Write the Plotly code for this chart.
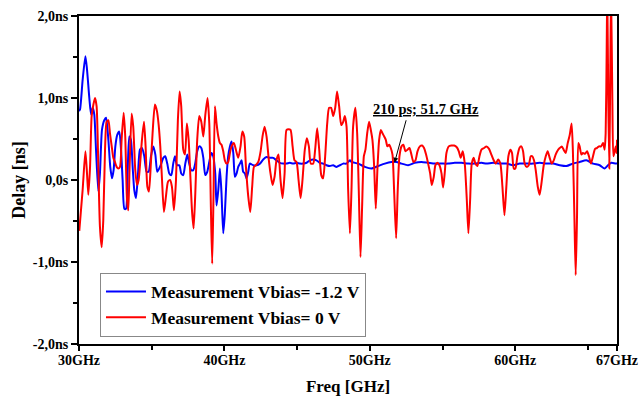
import plotly.graph_objects as go

# ---------------- data ----------------
blue_f = [30.00, 30.07, 30.25, 30.44, 30.55, 30.71, 30.83, 30.94, 31.05, 31.17, 31.33, 31.44, 31.58, 31.74, 31.86,
          32.02, 32.15, 32.27, 32.38, 32.50, 32.63, 32.77, 32.89, 33.00, 33.12, 33.23, 33.35, 33.46, 33.57, 33.69,
          33.80, 33.92, 34.06, 34.19, 34.33, 34.49, 34.65, 34.79, 34.95, 35.11, 35.25, 35.38, 35.52, 35.66, 35.80,
          35.93, 36.07, 36.21, 36.35, 36.48, 36.60, 36.74, 36.90, 37.03, 37.17, 37.31, 37.45, 37.58, 37.72, 37.86,
          37.99, 38.13, 38.27, 38.41, 38.55, 38.68, 38.82, 38.96, 39.10, 39.23, 39.37,
          39.46, 39.58, 39.69, 39.80, 39.92, 40.03, 40.15, 40.26, 40.38, 40.49, 40.61, 40.72, 40.84, 40.95, 41.07,
          41.18, 41.29, 41.41, 41.52, 41.64, 41.75, 41.98, 42.21, 42.44, 42.67, 42.90, 43.13, 43.36, 43.58, 43.81,
          44.04, 44.27, 44.50, 44.73, 44.96, 45.19, 45.42, 45.65, 45.88, 46.11, 46.33, 46.56, 46.79, 47.02, 47.25,
          47.48, 47.71, 47.94, 48.17, 48.40, 48.63,
          48.74, 49.20, 49.66, 50.11, 50.57, 51.03, 51.49, 51.83, 52.18, 52.63, 53.09, 53.55, 54.01, 54.47, 54.93,
          55.38, 55.84, 56.30, 56.76, 57.22, 57.68,
          58.02, 58.48, 58.93, 59.39, 59.85, 60.31, 60.77, 61.23, 61.68, 62.14, 62.60, 63.06, 63.52, 63.97, 64.43,
          64.89, 65.35, 65.81, 66.15, 66.38, 66.61, 66.95, 67.00]
blue_v = [0.84, 0.86, 1.22, 1.51, 1.35, 1.00, 0.80, 0.88, 0.80, 0.37, -0.14, 0.08, 0.61, 0.73, 0.76,
          0.49, 0.16, 0.02, 0.12, 0.41, 0.55, 0.59, 0.37, 0.00, -0.35, -0.35, 0.12, 0.53, 0.49, 0.16,
          -0.12, -0.22, 0.08, 0.37, 0.39, 0.29, 0.10, 0.10, 0.29, 0.41, 0.31, 0.10, 0.14, 0.20, 0.27,
          0.29, 0.20, 0.08, 0.06, 0.20, 0.29, 0.18, 0.18, 0.08, 0.06, 0.20, 0.31, 0.20, 0.12, 0.12,
          0.20, 0.35, 0.41, 0.39, 0.27, 0.06, 0.10, 0.22, 0.33, 0.29, 0.08,
          -0.31, -0.12, 0.14, -0.16, -0.65, -0.41, 0.04, 0.29, 0.41, 0.47, 0.33, 0.04, 0.08, 0.16, 0.20,
          0.24, 0.10, 0.08, 0.02, 0.10, 0.20, 0.18, 0.18, 0.20, 0.25, 0.28, 0.27, 0.27, 0.24, 0.21,
          0.20, 0.20, 0.21, 0.20, 0.21, 0.20, 0.20, 0.21, 0.24, 0.25, 0.24, 0.21, 0.20, 0.18, 0.17,
          0.18, 0.16, 0.18, 0.20, 0.20, 0.24,
          0.22, 0.20, 0.16, 0.14, 0.17, 0.20, 0.22, 0.22, 0.20, 0.18, 0.21, 0.22, 0.21, 0.20, 0.20,
          0.20, 0.21, 0.21, 0.20, 0.20, 0.21,
          0.20, 0.21, 0.20, 0.20, 0.18, 0.20, 0.20, 0.20, 0.21, 0.20, 0.20, 0.18, 0.17, 0.20, 0.22,
          0.24, 0.20, 0.18, 0.14, 0.18, 0.21, 0.20, 0.21]

red_f = [30.02, 30.25, 30.44, 30.55, 30.64, 30.76, 30.87, 30.99, 31.10, 31.21, 31.33, 31.44, 31.56, 31.67, 31.79,
         31.90, 32.02, 32.13, 32.25, 32.36, 32.47, 32.59, 32.70, 32.82, 32.93, 33.07, 33.18, 33.30, 33.39, 33.48,
         33.62, 33.73, 33.87, 33.99, 34.10, 34.22, 34.33, 34.47, 34.58, 34.70, 34.81, 34.93, 35.06, 35.22, 35.36,
         35.48, 35.59, 35.71, 35.84, 35.98, 36.12, 36.26, 36.39, 36.53, 36.67, 36.80, 36.92, 37.03, 37.17, 37.29,
         37.42, 37.54, 37.65, 37.77, 37.88, 37.99, 38.13, 38.27, 38.41, 38.55, 38.68, 38.84, 38.96, 39.07, 39.16,
         39.25, 39.35, 39.46, 39.58, 39.69, 39.80, 39.92, 40.03, 40.15, 40.26, 40.38, 40.49, 40.65, 40.79, 40.95,
         41.11, 41.23, 41.36, 41.48, 41.64, 41.78, 41.91, 42.03, 42.16, 42.33, 42.49, 42.62, 42.76, 42.90, 43.04,
         43.17, 43.31, 43.45, 43.58, 43.72, 43.86, 44.00, 44.14, 44.27, 44.41, 44.55, 44.69, 44.82, 44.96, 45.10,
         45.24, 45.37, 45.53, 45.67, 45.81, 45.94, 46.11, 46.24, 46.38, 46.52, 46.66, 46.79, 46.93, 47.07, 47.20,
         47.34, 47.48, 47.62, 47.75, 47.89, 48.03, 48.17, 48.28,
         48.40, 48.51, 48.63, 48.74, 48.85, 49.01, 49.13, 49.24, 49.36, 49.47, 49.59, 49.70, 49.82, 49.95, 50.07,
         50.18, 50.30, 50.41, 50.53, 50.64, 50.76, 50.87, 50.99, 51.10, 51.21, 51.33, 51.44, 51.56, 51.67, 51.81,
         51.92, 52.04, 52.18, 52.31, 52.45, 52.59, 52.73, 52.86, 53.00, 53.14, 53.28, 53.44, 53.60, 53.73, 53.87,
         54.01, 54.15, 54.26, 54.40, 54.51, 54.65, 54.79, 54.93, 55.04, 55.15, 55.27, 55.43, 55.61, 55.80, 55.98,
         56.12, 56.25, 56.39, 56.53, 56.67, 56.78, 56.90, 57.01, 57.15, 57.26, 57.40, 57.54, 57.68, 57.86,
         58.02, 58.20, 58.36, 58.52, 58.66, 58.82, 58.98, 59.12, 59.26, 59.39, 59.53, 59.67, 59.78, 59.90, 60.01,
         60.15, 60.29, 60.42, 60.54, 60.65, 60.79, 60.93, 61.07, 61.18, 61.29, 61.41, 61.55, 61.68, 61.82, 61.96,
         62.10, 62.23, 62.37, 62.51, 62.65, 62.78, 62.92, 63.06, 63.20, 63.33, 63.47, 63.61, 63.75, 63.88, 63.97,
         64.07, 64.16, 64.25, 64.34, 64.43, 64.55, 64.66, 64.80, 64.94, 65.07, 65.21, 65.35, 65.49, 65.62, 65.76,
         65.90, 66.04, 66.15, 66.22, 66.29, 66.33, 66.40, 66.47, 66.54, 66.59, 66.68, 66.75, 66.82, 66.91, 66.98,
         67.00]
red_v = [-0.62, -0.12, 0.35, 0.08, -0.18, 0.16, 0.78, 0.92, 1.00, 0.90, 0.16, -0.57, -0.82, -0.49, 0.37,
         0.71, 0.73, 0.57, 0.41, 0.27, 0.22, 0.16, 0.14, 0.16, 0.49, 0.82, 0.53, -0.24, -0.37, 0.16,
         0.81, 0.65, 0.12, -0.06, 0.00, 0.24, 0.49, 0.71, 0.41, -0.08, -0.14, 0.16, 0.57, 0.92, 0.84,
         0.67, 0.41, 0.00, -0.39, -0.20, -0.02, 0.00, -0.08, -0.37, 0.00, 0.73, 1.08, 0.90, 0.37, 0.31,
         0.69, 0.49, 0.08, -0.37, -0.59, -0.20, 0.49, 0.78, 0.71, 0.53, 0.78, 1.00, 0.69, -0.33, -1.02,
         -0.20, 0.90, 0.69, 0.53, 0.45, 0.43, 0.35, 0.24, 0.20, 0.22, 0.33, 0.41, 0.45, 0.37, 0.27,
         0.41, 0.59, 0.53, 0.16, -0.20, -0.39, -0.08, 0.16, 0.18, 0.22, 0.35, 0.53, 0.65, 0.53, 0.27,
         0.08, -0.06, 0.04, 0.24, 0.31, 0.00, -0.22, 0.08, 0.61, 0.62, 0.61, 0.41, 0.24, 0.22, 0.00,
         -0.22, 0.00, 0.37, 0.51, 0.41, 0.20, 0.20, 0.37, 0.63, 0.37, 0.06, 0.02, 0.29, 0.69, 0.88,
         0.88, 0.78, 0.88, 1.08, 0.90, 0.67, 0.71, 0.78,
         0.65, -0.12, -0.65, -0.12, 0.65, 0.88, 0.57, -0.12, -0.94, -0.33, 0.29, 0.37, 0.57, 0.71, 0.61,
         0.49, 0.16, -0.35, 0.16, 0.49, 0.61, 0.57, 0.53, 0.49, 0.41, 0.43, 0.39, 0.31, -0.12, -0.71,
         -0.12, 0.29, 0.41, 0.43, 0.35, 0.37, 0.39, 0.31, 0.22, 0.24, 0.35, 0.41, 0.42, 0.39, 0.31,
         0.20, 0.08, -0.06, 0.04, 0.18, 0.21, 0.18, 0.08, -0.09, 0.08, 0.33, 0.41, 0.42, 0.42, 0.40,
         0.35, 0.27, 0.35, 0.20, -0.24, -0.65, -0.24, 0.20, 0.27, 0.20, 0.17, 0.29, 0.37, 0.39,
         0.41, 0.38, 0.31, 0.24, 0.20, 0.25, 0.20, -0.08, -0.43, -0.08, 0.29, 0.37, 0.33, 0.14, 0.14,
         0.29, 0.39, 0.41, 0.35, 0.20, 0.16, 0.18, 0.29, 0.29, 0.24, 0.12, -0.08, -0.18, -0.02, 0.18,
         0.29, 0.35, 0.27, 0.20, 0.24, 0.31, 0.36, 0.39, 0.41, 0.37, 0.33, 0.45, 0.55, 0.69, 0.33,
         -0.45, -1.16, -0.45, 0.45, 0.41, 0.31, 0.33, 0.32, 0.35, 0.29, 0.20, 0.29, 0.38, 0.39, 0.41,
         0.41, 0.45, 0.37, 0.57, 1.59, 2.30, 0.98, 0.14, 1.39, 2.30, 0.98, 0.29, 0.33, 0.41, 0.33,
         0.49]

x_tickvals = [30, 40, 50, 60, 67]
x_ticktext = ["30GHz", "40GHz", "50GHz", "60GHz", "67GHz"]
y_tickvals = [2, 1, 0, -1, -2]
y_ticktext = ["2,0ns", "1,0ns", "0,0s", "-1,0ns", "-2,0ns"]

series_names = ["Measurement Vbias= -1.2 V", "Measurement Vbias= 0 V"]
annot_text = "210 ps; 51.7 GHz"
annot_point = (51.7, 0.21)

FONT = "Liberation Serif"

fig = go.Figure()
fig.add_trace(go.Scatter(x=blue_f, y=blue_v, mode="lines", name=series_names[0],
                         line=dict(color="#0000ff", width=2, shape="spline", smoothing=0.6)))
fig.add_trace(go.Scatter(x=red_f, y=red_v, mode="lines", name=series_names[1],
                         line=dict(color="#ff0000", width=2, shape="spline", smoothing=0.6)))

fig.update_layout(
    width=641, height=397,
    margin=dict(l=79, r=24, t=16, b=53, autoexpand=False),
    plot_bgcolor="white", paper_bgcolor="white",
    font=dict(family=FONT, color="black"),
    showlegend=True,
    legend=dict(x=0.039, xanchor="left", y=0.12, yanchor="middle",
                bgcolor="white", bordercolor="#888888", borderwidth=1,
                font=dict(family=FONT, size=17.5, weight="bold", color="black"),
                itemwidth=40, tracegroupgap=0, entrywidth=270),
)

fig.update_xaxes(
    range=[30, 67], tickvals=x_tickvals, ticktext=x_ticktext, automargin=False,
    showgrid=False, zeroline=False,
    showline=True, linecolor="black", linewidth=2, mirror=True,
    ticks="outside", ticklen=5, tickwidth=1.5, tickcolor="black", ticklabelstandoff=-3,
    minor=dict(tickvals=[35, 45, 55, 65], ticks="outside", ticklen=4, tickwidth=1.5, tickcolor="black"),
    tickfont=dict(family=FONT, size=14, weight="bold"),
    title=dict(text="Freq [GHz]", font=dict(family=FONT, size=17, weight="bold"), standoff=13),
)
fig.update_yaxes(
    range=[-2, 2], tickvals=y_tickvals, ticktext=y_ticktext, automargin=False,
    showgrid=False, zeroline=False,
    showline=True, linecolor="black", linewidth=2, mirror=True,
    ticks="outside", ticklen=6, tickwidth=1.5, tickcolor="black",
    minor=dict(tickvals=[1.5, 0.5, -0.5, -1.5], ticks="outside", ticklen=4, tickwidth=1.5, tickcolor="black"),
    tickfont=dict(family=FONT, size=14, weight="bold"),
    title=dict(text="Delay [ns]", font=dict(family=FONT, size=18, weight="bold"), standoff=2),
)

# label text
fig.add_annotation(x=53.85, y=0.86, xref="x", yref="y", text=annot_text, showarrow=False,
                   font=dict(family=FONT, size=14.5, weight="bold", color="black", lineposition="under"))
# arrow pointing to the marked value
fig.add_annotation(x=annot_point[0], y=annot_point[1], xref="x", yref="y", text="",
                   showarrow=True, ax=12, ay=-44, arrowhead=2, arrowsize=1, arrowwidth=1,
                   arrowcolor="black", standoff=0)

fig.write_html("out.html")
